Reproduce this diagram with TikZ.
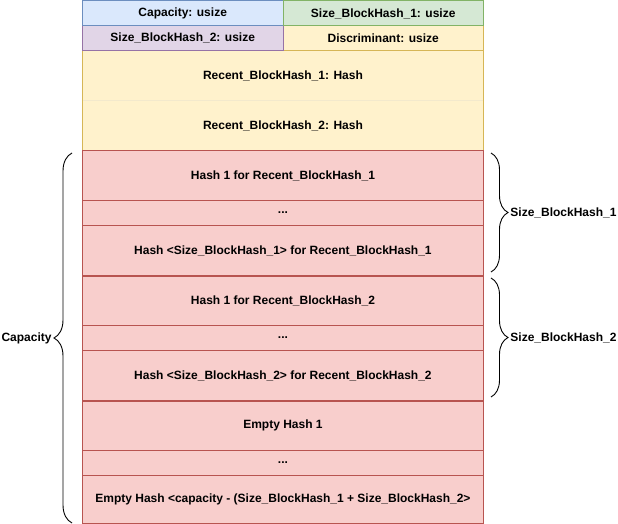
\documentclass[tikz,border=0pt]{standalone}
\usepackage{fontspec}
\setmainfont{Liberation Sans}
\usetikzlibrary{decorations.pathreplacing}
\definecolor{BlueFill}{HTML}{DAE8FC}
\definecolor{BlueLine}{HTML}{6C8EBF}
\definecolor{GreenFill}{HTML}{D5E8D4}
\definecolor{GreenLine}{HTML}{82B366}
\definecolor{PurpleFill}{HTML}{E1D5E7}
\definecolor{PurpleLine}{HTML}{9673A6}
\definecolor{YellowFill}{HTML}{FFF2CC}
\definecolor{YellowLine}{HTML}{D6B656}
\definecolor{RedFill}{HTML}{F8CECC}
\definecolor{RedLine}{HTML}{B85450}

\begin{document}
\begin{tikzpicture}[x=1pt,y=-1pt,line width=0.9pt,
        cell/.style={rectangle,anchor=north west,inner sep=0pt,minimum width=401pt,font=\bfseries\fontsize{12}{14}\selectfont},
        half/.style={cell,minimum width=200.5pt,minimum height=25pt},
        hashcell/.style={cell,fill=RedFill,draw=RedLine},
        sidetext/.style={inner sep=0pt,font=\bfseries\fontsize{12}{14}\selectfont},
        curly/.style={decorate,decoration={brace,amplitude=#1}}]
        \useasboundingbox (0,0) rectangle (618,524);
        % header
        \node[cell,fill=YellowFill,draw=YellowLine!30,minimum height=50pt] (rb1) at (82,50) {Recent\_BlockHash\_1: Hash};
        \node[cell,fill=YellowFill,draw=YellowLine!30,minimum height=50pt] (rb2) at (82,100) {Recent\_BlockHash\_2: Hash};
        \draw[YellowLine] (rb1.north west) rectangle (rb2.south east);
        \node[half,fill=YellowFill,draw=YellowLine] (disc) at (282.5,25) {Discriminant: usize};
        \node[half,fill=PurpleFill,draw=PurpleLine] (sz2) at (82,25) {Size\_BlockHash\_2: usize};
        \node[half,fill=BlueFill,draw=BlueLine] (cap) at (82,0.5) {Capacity: usize};
        \node[half,fill=GreenFill,draw=GreenLine] (sz1) at (282.5,0.5) {Size\_BlockHash\_1: usize};
        % hashes
        \node[hashcell,minimum height=50pt] (h11) at (82,150) {Hash 1 for Recent\_BlockHash\_1};
        \node[hashcell,minimum height=25pt] (h1d) at (82,200) {...};
        \node[hashcell,minimum height=50pt] (h1n) at (82,225) {Hash <Size\_BlockHash\_1> for Recent\_BlockHash\_1};
        \node[hashcell,minimum height=50pt] (h21) at (82,275) {Hash 1 for Recent\_BlockHash\_2};
        \node[hashcell,minimum height=25pt] (h2d) at (82,325) {...};
        \node[hashcell,minimum height=50pt] (h2n) at (82,350) {Hash <Size\_BlockHash\_2> for Recent\_BlockHash\_2};
        \node[hashcell,minimum height=50pt] (e1) at (82,400) {Empty Hash 1};
        \node[hashcell,minimum height=25pt] (ed) at (82,450) {...};
        \node[hashcell,minimum height=48pt] (en) at (82,475) {Empty Hash <capacity - (Size\_BlockHash\_1 + Size\_BlockHash\_2>};
        \draw[RedLine,line width=2pt] (h1n.south west) -- (h1n.south east);
        \draw[RedLine,line width=2pt] (h2n.south west) -- (h2n.south east);
        % braces
        \coordinate (capTop) at (72,153);
        \coordinate (capBot) at (72,523);
        \coordinate (b1Top) at (491,153);
        \coordinate (b1Bot) at (491,272);
        \coordinate (b2Top) at (491,278);
        \coordinate (b2Bot) at (491,397);
        \draw[curly=18pt] (capBot) -- (capTop);
        \draw[curly=17pt] (b1Top) -- (b1Bot);
        \draw[curly=17pt] (b2Top) -- (b2Bot);
        \node[sidetext,anchor=east] (capl) at (52,338) {Capacity};
        \node[sidetext,anchor=west] (b1l) at (510,212.5) {Size\_BlockHash\_1};
        \node[sidetext,anchor=west] (b2l) at (510,337.5) {Size\_BlockHash\_2};
\end{tikzpicture}
\end{document}
